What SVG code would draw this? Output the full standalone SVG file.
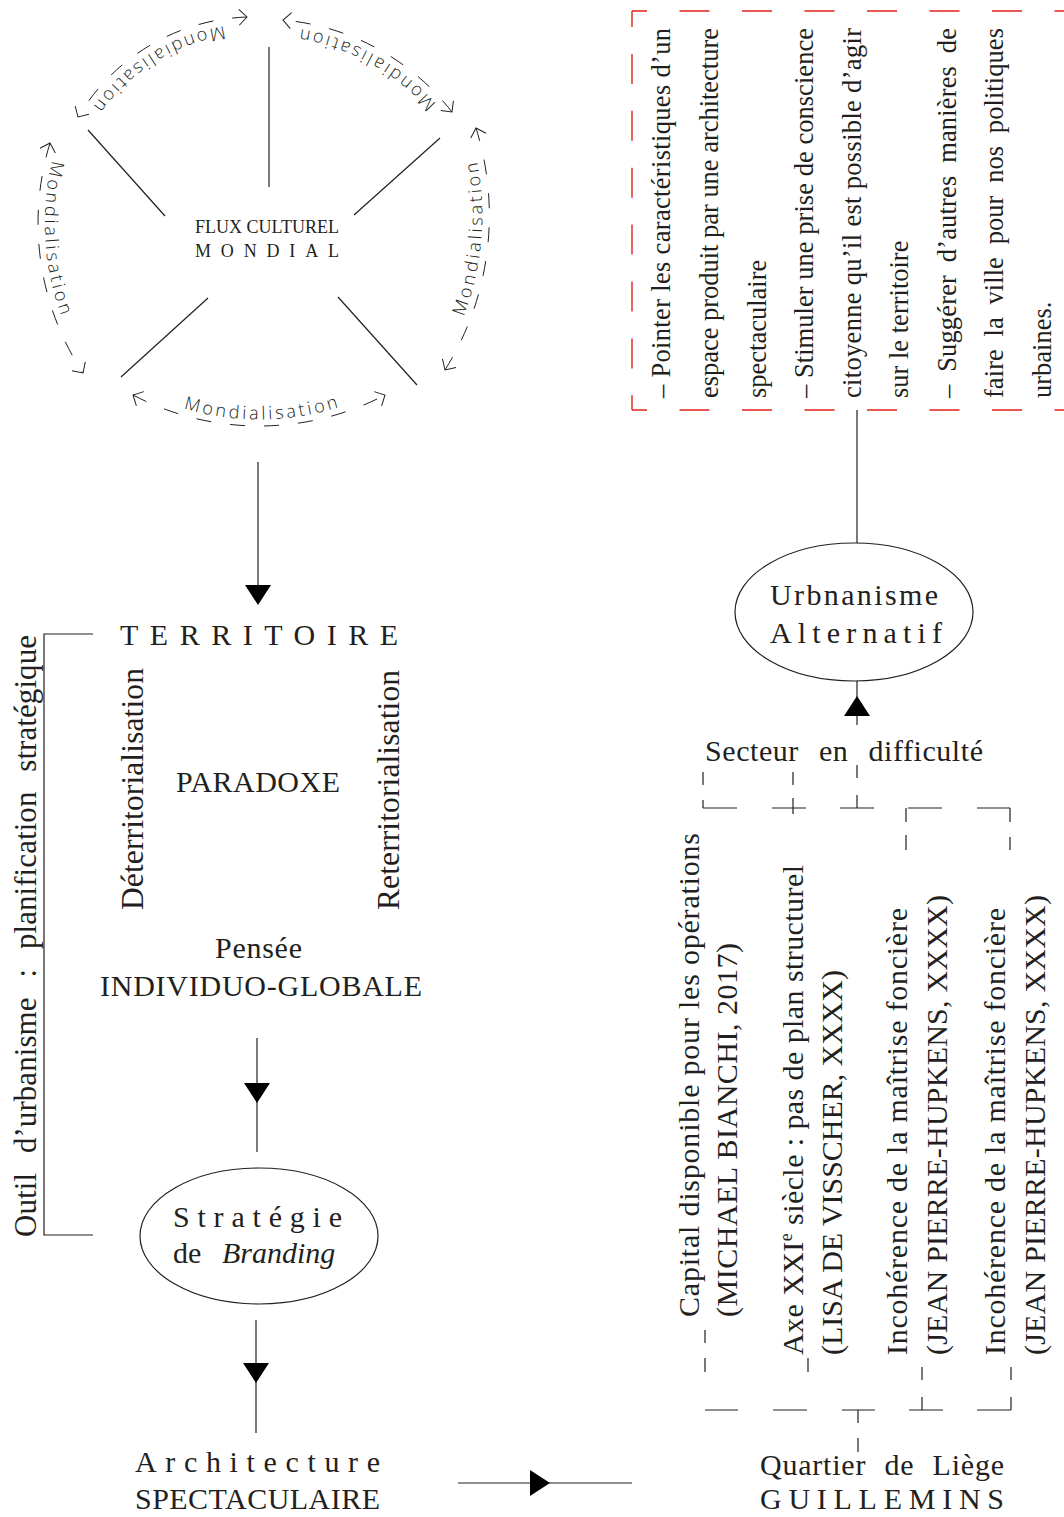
<svg xmlns="http://www.w3.org/2000/svg" width="1064" height="1517" viewBox="0 0 1064 1517">
<style>
.ink{stroke:#231f20;stroke-width:1.2;fill:none}
.dash-arc{stroke:#231f20;stroke-width:1;fill:none;stroke-dasharray:15 19;marker-start:url(#chev-s);marker-end:url(#chev-e)}
.red{stroke:#e2231a;stroke-width:1.4;fill:none}
.serif{font-family:"Liberation Serif","Times New Roman",serif;fill:#231f20}
.box{font-size:26.5px}
.main{font-size:30px}
.mond{font-family:"Open Sans","DejaVu Sans",sans-serif;font-weight:300;font-size:18px;letter-spacing:3px;fill:#231f20}
.head{fill:#000}
</style>
<defs>
  <marker id="chev-e" markerUnits="userSpaceOnUse" markerWidth="20" markerHeight="20" viewBox="-10 -10 20 20" refX="0" refY="0" orient="auto" overflow="visible">
    <path d="M-8,-8 L0,0 L-8,8" fill="none" stroke="#231f20" stroke-width="1"/>
  </marker>
  <marker id="chev-s" markerUnits="userSpaceOnUse" markerWidth="20" markerHeight="20" viewBox="-10 -10 20 20" refX="0" refY="0" orient="auto-start-reverse" overflow="visible">
    <path d="M-8,-8 L0,0 L-8,8" fill="none" stroke="#231f20" stroke-width="1"/>
  </marker>
  <!-- filled arrowhead, base on y=0, tip pointing +y -->
  <path id="tri" d="M-13,0 L13,0 L0,20 Z"/>
  <!-- baselines for the circular labels (counter-clockwise, concentric with their dashed arcs) -->
  <path id="mp-left" d="M96.3,65.5 A266,266 0 0 0 118.4,406.8"/>
  <path id="mp-tl" d="M298.7,29.0 A198,198 0 0 0 61.3,177.3"/>
  <path id="mp-tr" d="M486.3,193.5 A234,234 0 0 0 195.4,35.6"/>
  <path id="mp-right" d="M399.9,415.8 A285,285 0 0 0 429.9,50.6"/>
  <path id="mp-bottom" d="M91.5,359.7 A265,265 0 0 0 432.2,355.0"/>
</defs>

<!-- global cultural flow -->
<g id="flux">
  <g class="ink">
    <line x1="88" y1="130" x2="165" y2="216"/>
    <line x1="269" y1="47" x2="269" y2="187"/>
    <line x1="440" y1="138" x2="354" y2="215"/>
    <line x1="208" y1="298" x2="121" y2="377"/>
    <line x1="338" y1="297" x2="417" y2="385"/>
  </g>
  <text class="serif" x="195" y="233" font-size="18" textLength="144" lengthAdjust="spacing">FLUX CULTUREL</text>
  <text class="serif" x="195" y="257" font-size="18" textLength="144" lengthAdjust="spacing">MONDIAL</text>
</g>

<g id="mondialisation">
  <path class="dash-arc" d="M50,143 A273,273 0 0 0 83,373"/>
  <path class="dash-arc" d="M247,17 A205,205 0 0 0 78,117"/>
  <path class="dash-arc" d="M452,112 A241,241 0 0 0 283,20"/>
  <path class="dash-arc" d="M445,370 A292,292 0 0 0 476,128"/>
  <path class="dash-arc" d="M133,395 A271.6,271.6 0 0 0 385,395"/>
  <text class="mond"><textPath href="#mp-left" startOffset="50%" text-anchor="middle">Mondialisation</textPath></text>
  <text class="mond"><textPath href="#mp-tl" startOffset="50%" text-anchor="middle">Mondialisation</textPath></text>
  <text class="mond"><textPath href="#mp-tr" startOffset="50%" text-anchor="middle">Mondialisation</textPath></text>
  <text class="mond"><textPath href="#mp-right" startOffset="50%" text-anchor="middle">Mondialisation</textPath></text>
  <text class="mond"><textPath href="#mp-bottom" startOffset="50%" text-anchor="middle">Mondialisation</textPath></text>
</g>

<!-- left column -->
<g id="territoire">
  <text class="serif main" x="120" y="645" textLength="278" lengthAdjust="spacing">TERRITOIRE</text>
</g>
<g id="paradoxe">
  <text class="serif main" x="176" y="792" textLength="164" lengthAdjust="spacing">PARADOXE</text>
  <text class="serif" font-size="31.5" transform="translate(143,910) rotate(-90)" textLength="242" lengthAdjust="spacing">Déterritorialisation</text>
  <text class="serif" font-size="31.5" transform="translate(399,910) rotate(-90)" textLength="240" lengthAdjust="spacing">Reterritorialisation</text>
</g>
<g id="pensee">
  <text class="serif main" x="215" y="958" textLength="87" lengthAdjust="spacing">Pensée</text>
  <text class="serif main" x="100" y="996" textLength="322" lengthAdjust="spacing">INDIVIDUO-GLOBALE</text>
</g>
<g id="branding">
  <ellipse class="ink" cx="259" cy="1236" rx="119" ry="68"/>
  <text class="serif main" x="173" y="1227" textLength="169" lengthAdjust="spacing">Stratégie</text>
  <text class="serif main" x="173" y="1263">de<tspan x="222" font-style="italic">Branding</tspan></text>
</g>
<g id="architecture">
  <text class="serif main" x="135" y="1472" textLength="245" lengthAdjust="spacing">Architecture</text>
  <text class="serif main" x="135" y="1509" textLength="245" lengthAdjust="spacing">SPECTACULAIRE</text>
</g>
<g id="outil">
  <path class="ink" d="M93,634 H44 V1235 H93"/>
  <text class="serif" font-size="31" word-spacing="12" transform="translate(36,1237) rotate(-90)" textLength="602" lengthAdjust="spacing">Outil d’urbanisme : planification stratégique</text>
</g>

<!-- right column -->
<g id="objectifs">
  <path class="red" d="M632,11 H1064" stroke-dasharray="30 32.5" stroke-dashoffset="15"/>
  <path class="red" d="M632,410 H1064" stroke-dasharray="30 32.5" stroke-dashoffset="15"/>
  <path class="red" d="M632,11 V410" stroke-dasharray="30 26.9" stroke-dashoffset="14"/>
  <g class="serif box">
    <text transform="translate(670,398) rotate(-90)" textLength="370" lengthAdjust="spacing">– Pointer les caractéristiques d’un</text>
    <text transform="translate(718,398) rotate(-90)" textLength="370" lengthAdjust="spacing">espace produit par une architecture</text>
    <text transform="translate(766,398) rotate(-90)">spectaculaire</text>
    <text transform="translate(813,398) rotate(-90)" textLength="370" lengthAdjust="spacing">– Stimuler une prise de conscience</text>
    <text transform="translate(861,398) rotate(-90)" textLength="370" lengthAdjust="spacing">citoyenne qu’il est possible d’agir</text>
    <text transform="translate(908,398) rotate(-90)">sur le territoire</text>
    <text transform="translate(956,398) rotate(-90)" word-spacing="6" textLength="370" lengthAdjust="spacing">– Suggérer d’autres manières de</text>
    <text transform="translate(1003,398) rotate(-90)" word-spacing="6" textLength="370" lengthAdjust="spacing">faire la ville pour nos politiques</text>
    <text transform="translate(1051,398) rotate(-90)">urbaines.</text>
  </g>
</g>
<g id="urbanisme">
  <ellipse class="ink" cx="854" cy="612" rx="119" ry="69"/>
  <text class="serif main" x="770" y="605" textLength="168" lengthAdjust="spacing">Urbnanisme</text>
  <text class="serif main" x="770" y="643" textLength="172" lengthAdjust="spacing">Alternatif</text>
</g>
<g id="secteur">
  <text class="serif main" x="705" y="761" word-spacing="12" textLength="278" lengthAdjust="spacing">Secteur en difficulté</text>
</g>
<g id="facteurs">
  <g class="serif main">
    <text transform="translate(699,1317) rotate(-90)" textLength="484" lengthAdjust="spacing">Capital disponible pour les opérations</text>
    <text transform="translate(737,1317) rotate(-90)" textLength="374" lengthAdjust="spacing">(MICHAEL BIANCHI, 2017)</text>
    <text transform="translate(803,1355) rotate(-90)" textLength="490" lengthAdjust="spacing">Axe XXI<tspan font-size="18" dy="-11">e</tspan><tspan dy="11"> siècle : pas de plan structurel</tspan></text>
    <text transform="translate(842,1355) rotate(-90)" textLength="385" lengthAdjust="spacing">(LISA DE VISSCHER, XXXX)</text>
    <text transform="translate(907,1355) rotate(-90)" textLength="447" lengthAdjust="spacing">Incohérence de la maîtrise foncière</text>
    <text transform="translate(947,1355) rotate(-90)" textLength="460" lengthAdjust="spacing">(JEAN PIERRE-HUPKENS, XXXX)</text>
    <text transform="translate(1005,1355) rotate(-90)" textLength="447" lengthAdjust="spacing">Incohérence de la maîtrise foncière</text>
    <text transform="translate(1045,1355) rotate(-90)" textLength="460" lengthAdjust="spacing">(JEAN PIERRE-HUPKENS, XXXX)</text>
  </g>
</g>
<g id="guillemins">
  <text class="serif main" x="760" y="1475" word-spacing="10" textLength="244" lengthAdjust="spacing">Quartier de Liège</text>
  <text class="serif main" x="760" y="1509" textLength="244" lengthAdjust="spacing">GUILLEMINS</text>
</g>

<!-- connectors -->
<g id="connectors">
  <g class="ink">
    <line x1="258" y1="462" x2="258" y2="592"/>
    <line x1="257" y1="1038" x2="257" y2="1152"/>
    <line x1="256" y1="1320" x2="256" y2="1433"/>
    <line x1="458" y1="1483" x2="632" y2="1483"/>
    <line x1="857" y1="410" x2="857" y2="543"/>
    <line x1="857" y1="681" x2="857" y2="725"/>
  </g>
  <g class="head">
    <use href="#tri" transform="translate(258,585)"/>
    <use href="#tri" transform="translate(257,1083)"/>
    <use href="#tri" transform="translate(256,1363)"/>
    <use href="#tri" transform="translate(530,1483) rotate(-90)"/>
    <use href="#tri" transform="translate(857,716) rotate(180)"/>
  </g>
  <!-- dashed bus above and below the four factors -->
  <path class="ink" d="M703,772 V785 M703,800 V808 M793,772 V785 M793,798 V814 M857,765 V778 M857,795 V808
    M906,808 V822 M906,835 V850 M1010,808 V822 M1010,837 V850
    M703,808 H737 M772,808 H806 M840,808 H874 M908,808 H942 M977,808 H1010"/>
  <path class="ink" d="M705,1330 V1343 M705,1358 V1372 M808,1358 V1372 M922,1367 V1380 M922,1397 V1410 M1011,1367 V1380 M1011,1397 V1410
    M858,1410 V1423 M858,1438 V1452
    M705,1410 H738 M773,1410 H807 M842,1410 H875 M909,1410 H943 M977,1410 H1011"/>
</g>
</svg>
